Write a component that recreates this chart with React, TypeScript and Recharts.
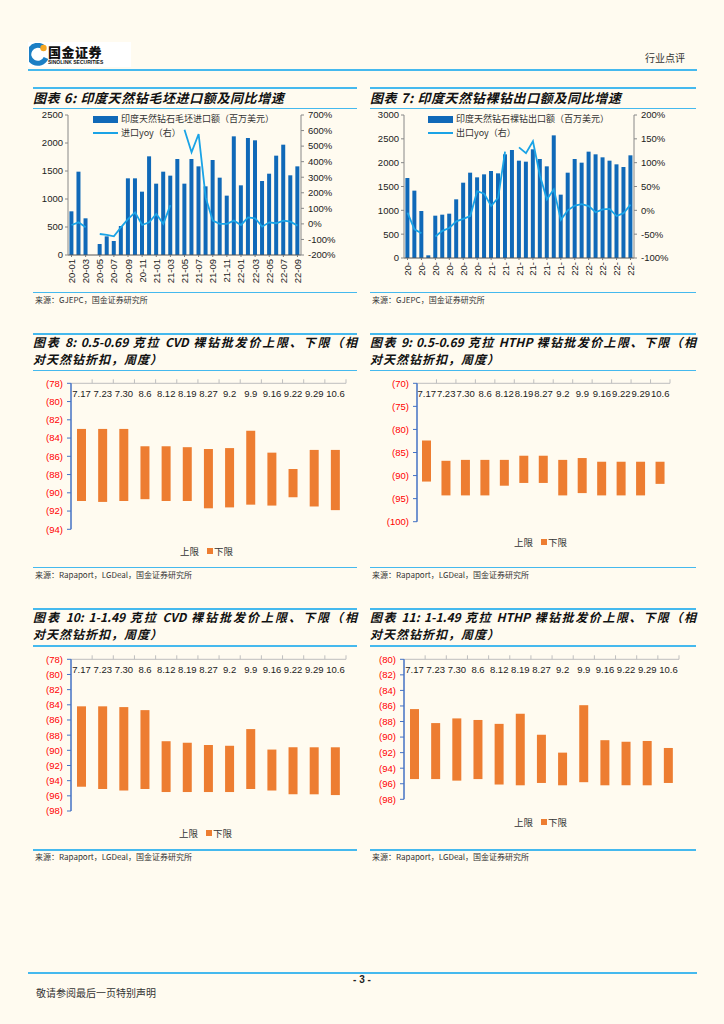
import React from 'react';
import { ComposedChart, BarChart, Bar, Line, XAxis, YAxis } from 'recharts';

const months = ['20-01','20-02','20-03','20-04','20-05','20-06','20-07','20-08','20-09','20-10','20-11','20-12','21-01','21-02','21-03','21-04','21-05','21-06','21-07','21-08','21-09','21-10','21-11','21-12','22-01','22-02','22-03','22-04','22-05','22-06','22-07','22-08','22-09'];
const importValues = [780,1488,655,0,196,333,250,518,1369,1369,1131,1762,1274,1488,1417,1714,1274,1714,1583,1226,1696,1381,1060,2119,1244,2089,2048,1321,1452,1774,1970,1423,1583];
const importYoy = [-7,10,-22,null,-65,-71,-80,-22,31,74,-7,10,64,0,121,null,605,460,578,170,21,0,0,21,-7,42,36,-18,10,4,21,14,-11];
const exportValues = [1678,1413,986,56,888,909,930,1231,1580,1790,1692,1755,1825,1776,2175,2266,2042,2021,2280,2077,1923,2573,1329,1790,2077,2000,2231,2175,2112,2042,1965,1909,2154];
const exportYoy = [-5,-40,-48,null,-55,-43,-37,-23,-18,-12,40,35,9,26,123,null,132,120,145,73,23,44,-20,0,10,13,9,-4,2,3,-12,-6,12];

const leftTicks6 = [0,500,1000,1500,2000,2500];
const rightTicks6 = [-200,-100,0,100,200,300,400,500,600,700];
const leftTicks7 = [0,500,1000,1500,2000,2500,3000];
const rightTicks7 = [-100,-50,0,50,100,150,200];

const weeks = ['7.17','7.23','7.30','8.6','8.12','8.19','8.27','9.2','9.9','9.16','9.22','9.29','10.6'];
const cvdSmallUpper = [-83.0,-83.0,-83.0,-84.9,-84.9,-85.0,-85.2,-85.1,-83.2,-85.6,-87.4,-85.3,-85.3];
const cvdSmallLower = [-90.9,-91.0,-90.9,-90.7,-90.9,-90.9,-91.7,-91.6,-91.3,-91.4,-90.5,-91.5,-91.9];
const hthpSmallUpper = [-82.4,-86.8,-86.6,-86.6,-86.6,-85.7,-85.7,-86.6,-86.2,-87.0,-87.0,-87.0,-87.0];
const hthpSmallLower = [-91.3,-94.3,-94.3,-94.3,-92.2,-91.6,-91.6,-94.3,-93.8,-94.3,-94.3,-94.3,-91.8];
const cvdLargeUpper = [-84.2,-84.2,-84.3,-84.7,-88.8,-89.0,-89.3,-89.4,-87.2,-89.9,-89.6,-89.6,-89.6];
const cvdLargeLower = [-94.8,-95.1,-95.3,-95.1,-95.5,-95.5,-95.5,-95.5,-95.1,-95.3,-95.8,-95.8,-95.9];
const hthpLargeUpper = [-86.4,-88.2,-87.6,-87.8,-88.3,-87.0,-89.7,-92.0,-85.9,-90.4,-90.6,-90.5,-91.4];
const hthpLargeLower = [-95.4,-95.4,-95.6,-95.4,-96.1,-96.2,-95.9,-96.2,-95.8,-96.2,-96.2,-96.2,-95.9];

const ticks8 = [-94,-92,-90,-88,-86,-84,-82,-80,-78];
const ticks9 = [-100,-95,-90,-85,-80,-75,-70];
const ticks10 = [-98,-96,-94,-92,-90,-88,-86,-84,-82,-80,-78];
const ticks11 = [-98,-96,-94,-92,-90,-88,-86,-84,-82,-80];

const BG = '#FFFBF0';
const LINE_BLUE = '#45B9EE';
const BAR_BLUE = '#1069B8';
const YOY_BLUE = '#1AA3E6';
const ORANGE = '#ED7D31';
const FONT = '"Liberation Sans", Arial, "Noto Sans CJK SC", sans-serif';
const CJK = '"Noto Sans CJK SC", "Liberation Sans", sans-serif';

const HLine = ({ left, top, width, h = 1.5 }: any) => (
  <div style={{ position: 'absolute', left, top, width, height: h, background: LINE_BLUE }} />
);

const Txt = ({ left, top, children, style }: any) => (
  <div style={{ position: 'absolute', left, top, whiteSpace: 'nowrap', ...style }}>{children}</div>
);

const titleStyle: any = { fontFamily: CJK, fontWeight: 700, fontStyle: 'italic', fontSize: 12, lineHeight: '14px', color: '#111' };
const sourceStyle: any = { fontFamily: CJK, fontSize: 8, lineHeight: '10px', color: '#333' };

const Panel = ({ left, width, lineTop, title1, title2, underline, bottomLine, source }: any) => (
  <>
    <HLine left={left} top={lineTop} width={width} h={2} />
    {title2 ? (
      <>
        <div style={{ position: 'absolute', left, top: lineTop + 2, width, ...titleStyle, textAlign: 'justify', textAlignLast: 'justify', whiteSpace: 'nowrap' }}>{title1}</div>
        <div style={{ position: 'absolute', left, top: lineTop + 19.5, width, ...titleStyle, letterSpacing: 1 }}>{title2}</div>
      </>
    ) : (
      <div style={{ position: 'absolute', left, top: lineTop + 3.5, width, ...titleStyle, fontSize: 13, letterSpacing: 0.6 }}>{title1}</div>
    )}
    <HLine left={left} top={underline} width={width} />
    <HLine left={left} top={bottomLine} width={width} />
    <Txt left={left + 2} top={bottomLine + 3} style={sourceStyle}>{source}</Txt>
  </>
);

const MonthTick = (short: boolean) => (props: any) => {
  const { x, y, payload } = props;
  const label = short ? String(payload.value).slice(0, 3) : payload.value;
  return (
    <text x={x} y={y} transform={`rotate(-90 ${x} ${y})`} textAnchor="end" dominantBaseline="central" fontSize={9.5} fontFamily={FONT} fill="#222">{label}</text>
  );
};

const MonthChart = ({ left, width, height, values, yoy, leftTicks, rightTicks, leftMax, rightDomain, leftW, rightW, xH, short, barName, lineName, legendLeft }: any) => {
  const data = months.map((m, i) => ({ month: m, value: values[i], yoy: yoy[i] }));
  return (
    <div style={{ position: 'absolute', left, top: 108, width, height }}>
      <ComposedChart width={width} height={height} data={data} margin={{ top: 7, right: 0, bottom: 0, left: 0 }} barCategoryGap="20%">
        <XAxis dataKey="month" interval={1} height={xH} tick={MonthTick(short)} tickLine={{ stroke: '#777' }} tickSize={2} axisLine={{ stroke: '#555' }} />
        <YAxis yAxisId="left" width={leftW} domain={[0, leftMax]} ticks={leftTicks} tick={{ fontSize: 9.5, fill: '#222', fontFamily: FONT }} tickSize={3} tickMargin={2} axisLine={{ stroke: '#888' }} tickLine={{ stroke: '#888' }} />
        <YAxis yAxisId="right" orientation="right" width={rightW} domain={rightDomain} ticks={rightTicks} tickFormatter={(v: number) => `${v}%`} tick={{ fontSize: 9.5, fill: '#222', fontFamily: FONT }} tickSize={3} tickMargin={4} axisLine={{ stroke: '#888' }} tickLine={{ stroke: '#888' }} />
        <Bar yAxisId="left" dataKey="value" name={barName} fill={BAR_BLUE} isAnimationActive={false} />
        <Line yAxisId="right" dataKey="yoy" name={lineName} stroke={YOY_BLUE} strokeWidth={1.8} dot={false} connectNulls={false} isAnimationActive={false} />
      </ComposedChart>
      <div style={{ position: 'absolute', left: legendLeft, top: 4, fontFamily: CJK, fontSize: 9, color: '#333', lineHeight: '14px' }}>
        <div style={{ display: 'flex', alignItems: 'center' }}>
          <span style={{ display: 'inline-block', width: 25, height: 7, background: BAR_BLUE, marginRight: 3 }} />
          <span>{barName}</span>
        </div>
        <div style={{ display: 'flex', alignItems: 'center' }}>
          <span style={{ display: 'inline-block', width: 25, height: 2, background: YOY_BLUE, marginRight: 3 }} />
          <span>{lineName}</span>
        </div>
      </div>
    </div>
  );
};

const WeekTick = (axisY: number, bandHalf: number) => (props: any) => {
  const { x, payload } = props;
  const half = payload && typeof payload.offset === 'number' && payload.offset > 0 ? payload.offset : bandHalf;
  return (
    <g>
      <line x1={x + half} x2={x + half} y1={axisY} y2={axisY - 4} stroke="#BFBFBF" strokeWidth={1} />
      <text x={x} y={axisY + 14} textAnchor="middle" fontSize={9.5} fontFamily={FONT} fill="#222">{payload.value}</text>
    </g>
  );
};

const RangeChart = ({ left, top, width, height, upper, lower, ticks, yW, mRight, mBottom, legendLeft, legendTop }: any) => {
  const data = weeks.map((w, i) => ({ week: w, range: [lower[i], upper[i]] }));
  const xH = 8;
  const mTop = 13.3 - xH;
  const plotW = width - yW - mRight;
  const bandHalf = plotW / weeks.length / 2;
  return (
    <div style={{ position: 'absolute', left, top, width, height }}>
      <BarChart width={width} height={height} data={data} margin={{ top: mTop, right: mRight, bottom: mBottom, left: 0 }}>
        <XAxis dataKey="week" orientation="top" height={xH} interval={0} tickLine={false} axisLine={{ stroke: '#BFBFBF' }} tick={WeekTick(mTop + xH, bandHalf)} />
        <YAxis width={yW} domain={[ticks[0], ticks[ticks.length - 1]]} ticks={ticks} tickFormatter={(v: number) => `(${Math.abs(v)})`} tick={{ fontSize: 9.5, fill: '#FF0000', fontFamily: FONT }} tickSize={4} tickMargin={4} axisLine={{ stroke: '#4472C4', strokeWidth: 1.5 }} tickLine={{ stroke: '#4472C4' }} />
        <Bar dataKey="range" name="下限" fill={ORANGE} barSize={9} isAnimationActive={false} />
      </BarChart>
      <div style={{ position: 'absolute', left: legendLeft, top: legendTop, fontFamily: CJK, fontSize: 9.5, color: '#333', display: 'flex', alignItems: 'center', lineHeight: '12px' }}>
        <span>上限</span>
        <span style={{ display: 'inline-block', width: 6, height: 6, background: ORANGE, marginLeft: 8, marginRight: 1 }} />
        <span>下限</span>
      </div>
    </div>
  );
};

const Logo = () => (
  <div style={{ position: 'absolute', left: 28, top: 42, width: 103, height: 25, background: '#FFFFFF' }}>
    <svg width={20} height={24} style={{ position: 'absolute', left: 1, top: 1 }}>
      <path d="M14 4 A9 9 0 1 0 17 15" fill="none" stroke="#1B7FC4" strokeWidth={5} />
      <circle cx={14.5} cy={5} r={3.2} fill="#F5A623" />
    </svg>
    <div style={{ position: 'absolute', left: 20, top: 2, fontFamily: CJK, fontWeight: 900, fontSize: 13, lineHeight: '15px', color: '#111', letterSpacing: 0.5 }}>国金证券</div>
    <div style={{ position: 'absolute', left: 20, top: 17, fontFamily: FONT, fontWeight: 700, fontSize: 5, lineHeight: '6px', color: '#111' }}>SINOLINK SECURITIES</div>
  </div>
);

export default function App() {
  return (
    <div style={{ position: 'absolute', left: 0, top: 0, width: 724, height: 1024, background: BG, overflow: 'hidden' }}>
      <Logo />
      <Txt left={645} top={52} style={{ fontFamily: CJK, fontSize: 10, color: '#333', lineHeight: '12px' }}>行业点评</Txt>
      <HLine left={28} top={69} width={669} h={2} />

      <Panel left={33} width={324} lineTop={87} title1="图表 6: 印度天然钻毛坯进口额及同比增速" underline={107.5} bottomLine={291.5} source="来源：GJEPC，国金证券研究所" />
      <Panel left={370} width={326} lineTop={87} title1="图表 7: 印度天然钻裸钻出口额及同比增速" underline={107.5} bottomLine={291.5} source="来源：GJEPC，国金证券研究所" />

      <MonthChart left={33} width={325} height={184} values={importValues} yoy={importYoy} leftTicks={leftTicks6} rightTicks={rightTicks6} leftMax={2500} rightDomain={[-200, 700]} leftW={35} rightW={57} xH={37} short={false} barName="印度天然钻石毛坯进口额（百万美元）" lineName="进口yoy（右）" legendLeft={60} />
      <MonthChart left={370} width={326} height={184} values={exportValues} yoy={exportYoy} leftTicks={leftTicks7} rightTicks={rightTicks7} leftMax={3000} rightDomain={[-100, 200]} leftW={34} rightW={62} xH={34} short={true} barName="印度天然钻石裸钻出口额（百万美元）" lineName="出口yoy（右）" legendLeft={58} />

      <Panel left={33} width={324} lineTop={332.5} title1="图表 8: 0.5-0.69 克拉 CVD 裸钻批发价上限、下限（相" title2="对天然钻折扣，周度）" underline={369.5} bottomLine={566.8} source="来源：Rapaport，LGDeal，国金证券研究所" />
      <Panel left={370} width={326} lineTop={332.5} title1="图表 9: 0.5-0.69 克拉 HTHP 裸钻批发价上限、下限（相" title2="对天然钻折扣，周度）" underline={369.5} bottomLine={566.8} source="来源：Rapaport，LGDeal，国金证券研究所" />

      <RangeChart left={33} top={370} width={325} height={198} upper={cvdSmallUpper} lower={cvdSmallLower} ticks={ticks8} yW={38} mRight={12} mBottom={38.7} legendLeft={147} legendTop={175} />
      <RangeChart left={370} top={370} width={326} height={198} upper={hthpSmallUpper} lower={hthpSmallLower} ticks={ticks9} yW={47} mRight={26} mBottom={46.3} legendLeft={144} legendTop={166} />

      <Panel left={33} width={324} lineTop={607.5} title1="图表 10: 1-1.49 克拉 CVD 裸钻批发价上限、下限（相" title2="对天然钻折扣，周度）" underline={645} bottomLine={849.3} source="来源：Rapaport，LGDeal，国金证券研究所" />
      <Panel left={370} width={326} lineTop={607.5} title1="图表 11: 1-1.49 克拉 HTHP 裸钻批发价上限、下限（相" title2="对天然钻折扣，周度）" underline={645} bottomLine={849.3} source="来源：Rapaport，LGDeal，国金证券研究所" />

      <RangeChart left={33} top={646} width={325} height={204} upper={cvdLargeUpper} lower={cvdLargeLower} ticks={ticks10} yW={38} mRight={12} mBottom={39} legendLeft={146} legendTop={181} />
      <RangeChart left={370} top={646} width={326} height={204} upper={hthpLargeUpper} lower={hthpLargeLower} ticks={ticks11} yW={34} mRight={17} mBottom={50.7} legendLeft={144} legendTop={170} />

      <HLine left={28} top={971.5} width={669} h={2} />
      <Txt left={0} top={974} style={{ width: 724, textAlign: 'center', fontFamily: FONT, fontWeight: 700, fontSize: 10, lineHeight: '12px', color: '#222' }}>- 3 -</Txt>
      <Txt left={36} top={987} style={{ fontFamily: CJK, fontSize: 10, lineHeight: '12px', color: '#333' }}>敬请参阅最后一页特别声明</Txt>
    </div>
  );
}
